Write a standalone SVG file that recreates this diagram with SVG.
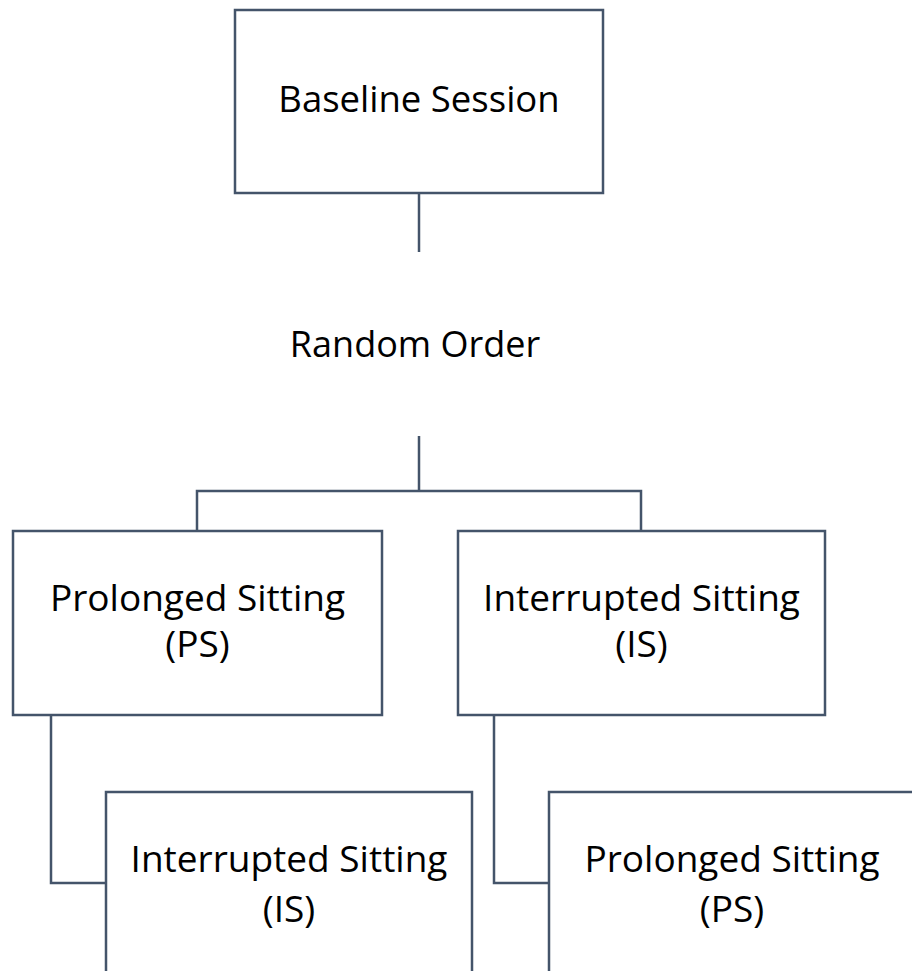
<svg xmlns="http://www.w3.org/2000/svg" width="912" height="971" viewBox="0 0 912 971">
<style>
.box{fill:#fff;stroke:#44546a;stroke-width:2.5}
.conn{fill:none;stroke:#44546a;stroke-width:2.5}
.t{font-family:"Open Sans","Noto Sans",sans-serif;font-size:37px;fill:#000;text-anchor:middle}
</style>
<rect width="912" height="971" fill="#fff"/>
<g id="connectors">
<path class="conn" d="M419 193V252"/>
<path class="conn" d="M419 436V491M197 531V491H641V531"/>
<path class="conn" d="M51 715V883H106"/>
<path class="conn" d="M494 715V883H549"/>
</g>
<g id="baseline">
<rect class="box" x="235" y="10" width="368" height="183"/>
<text class="t" x="419" y="112" style="font-size:36.5px">Baseline Session</text>
</g>
<g id="random">
<text class="t" x="415" y="357" style="font-size:36px">Random Order</text>
</g>
<g id="ps1">
<rect class="box" x="13" y="531" width="369" height="184"/>
<text class="t" x="197.5" y="611">Prolonged Sitting</text>
<text class="t" x="197.5" y="657">(PS)</text>
</g>
<g id="is1">
<rect class="box" x="458" y="531" width="367" height="184"/>
<text class="t" x="641.5" y="611">Interrupted Sitting</text>
<text class="t" x="641.5" y="657">(IS)</text>
</g>
<g id="is2">
<rect class="box" x="106" y="792" width="366" height="200"/>
<text class="t" x="289" y="872">Interrupted Sitting</text>
<text class="t" x="289" y="922">(IS)</text>
</g>
<g id="ps2">
<rect class="box" x="549" y="792" width="366" height="200"/>
<text class="t" x="732" y="872">Prolonged Sitting</text>
<text class="t" x="732" y="922">(PS)</text>
</g>
</svg>
